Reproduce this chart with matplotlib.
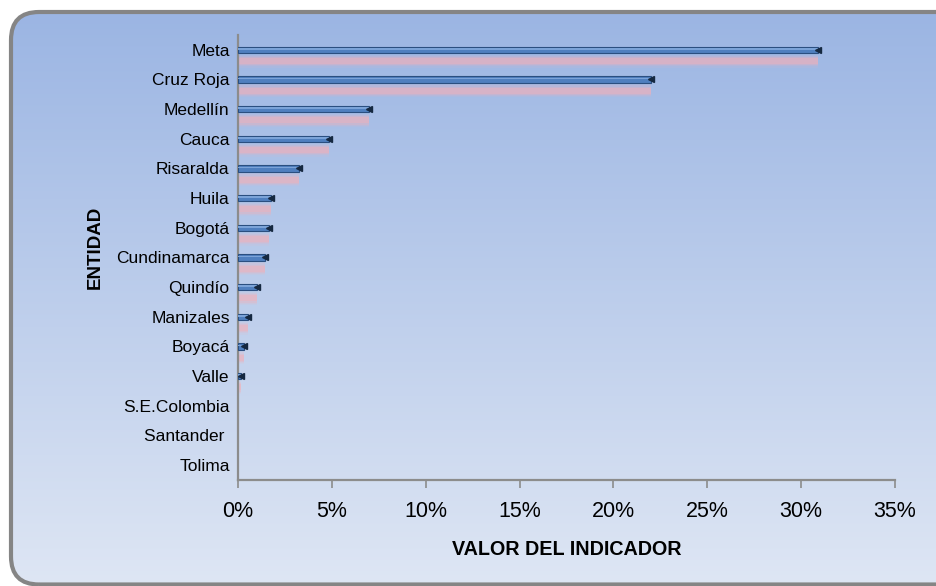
import matplotlib
matplotlib.use("Agg")
import matplotlib.pyplot as plt
import numpy as np
from matplotlib.patches import FancyBboxPatch
from matplotlib.ticker import FuncFormatter

plt.rcParams['font.family'] = ['Liberation Sans', 'DejaVu Sans']

entidades = ["Meta", "Cruz Roja", "Medellín", "Cauca", "Risaralda", "Huila", "Bogotá",
             "Cundinamarca", "Quindío", "Manizales", "Boyacá", "Valle", "S.E.Colombia",
             "Santander ", "Tolima"]
valores = [30.9, 22.0, 7.0, 4.85, 3.25, 1.75, 1.65, 1.45, 1.0, 0.55, 0.33, 0.15, 0.0, 0.0, 0.0]
ticks = [0, 5, 10, 15, 20, 25, 30, 35]

W, H = 937, 586
fig = plt.figure(figsize=(W / 100, H / 100), dpi=100)

# background gradient with rounded border
bg = fig.add_axes([0, 0, 1, 1], zorder=-10)
bg.set_xlim(0, W); bg.set_ylim(0, H); bg.axis('off')
top = np.array([0x9B, 0xB5, 0xE3]) / 255
bot = np.array([0xDE, 0xE6, 0xF4]) / 255
t = np.linspace(0, 1, 256)[:, None]
grad = (top[None, :] * (1 - t) + bot[None, :] * t)[:, None, :]
box = FancyBboxPatch((11, 1.5), 960, 572.5, boxstyle="round,pad=0,rounding_size=28",
                     fc='none', ec='#858585', lw=3, zorder=3)
bg.add_patch(box)
im = bg.imshow(np.repeat(grad, 2, axis=1), extent=(11, 971, 1.5, 574), aspect='auto',
               origin='upper', zorder=1)
im.set_clip_path(box)

ax = fig.add_axes([238 / W, 1 - 480 / H, (895 - 238) / W, (480 - 35) / H])
ax.patch.set_alpha(0)
y = np.arange(len(entidades))

# blurred pink shadow
for hh, a in [(0.44, 0.10), (0.36, 0.15), (0.28, 0.25), (0.20, 0.40)]:
    ax.barh(y + 0.38, valores, height=hh, color='#F4B0B8', alpha=a, lw=0, zorder=1)

nz = [i for i, v in enumerate(valores) if v > 0]
vnz = [valores[i] for i in nz]
ynz = y[nz]
ax.barh(ynz, vnz, height=0.21, color='#4F7FBF', edgecolor='#2B4F80', lw=0.8, zorder=3)
ax.barh(ynz - 0.035, vnz, height=0.05, color='#7BA3D8', lw=0, zorder=4)
ax.plot(vnz, ynz, ls='none', marker='<', ms=4, color='#152840', zorder=5)

ax.set_ylim(len(entidades) - 0.5, -0.5)
ax.set_xlim(0, 35)
ax.set_xticks(ticks)
ax.xaxis.set_major_formatter(FuncFormatter(lambda v, p: f"{v:.0f}%"))
ax.set_yticks(y)
ax.set_yticklabels(entidades)
ax.tick_params(axis='y', length=0, pad=6, labelsize=12.5)
ax.tick_params(axis='x', length=6, width=1.2, color='#8C8C8C', pad=9, labelsize=15.5)
for s in ['top', 'right']:
    ax.spines[s].set_visible(False)
for s in ['left', 'bottom']:
    ax.spines[s].set_color('#8C8C8C')
    ax.spines[s].set_linewidth(1.6)

ax.set_xlabel("VALOR DEL INDICADOR", fontsize=14.2, fontweight='bold', labelpad=13)
fig.text(95 / W, 1 - 247 / H, "ENTIDAD", rotation=90, fontsize=13.5, fontweight='bold',
         ha='center', va='center')

fig.savefig("out.png", dpi=100)
